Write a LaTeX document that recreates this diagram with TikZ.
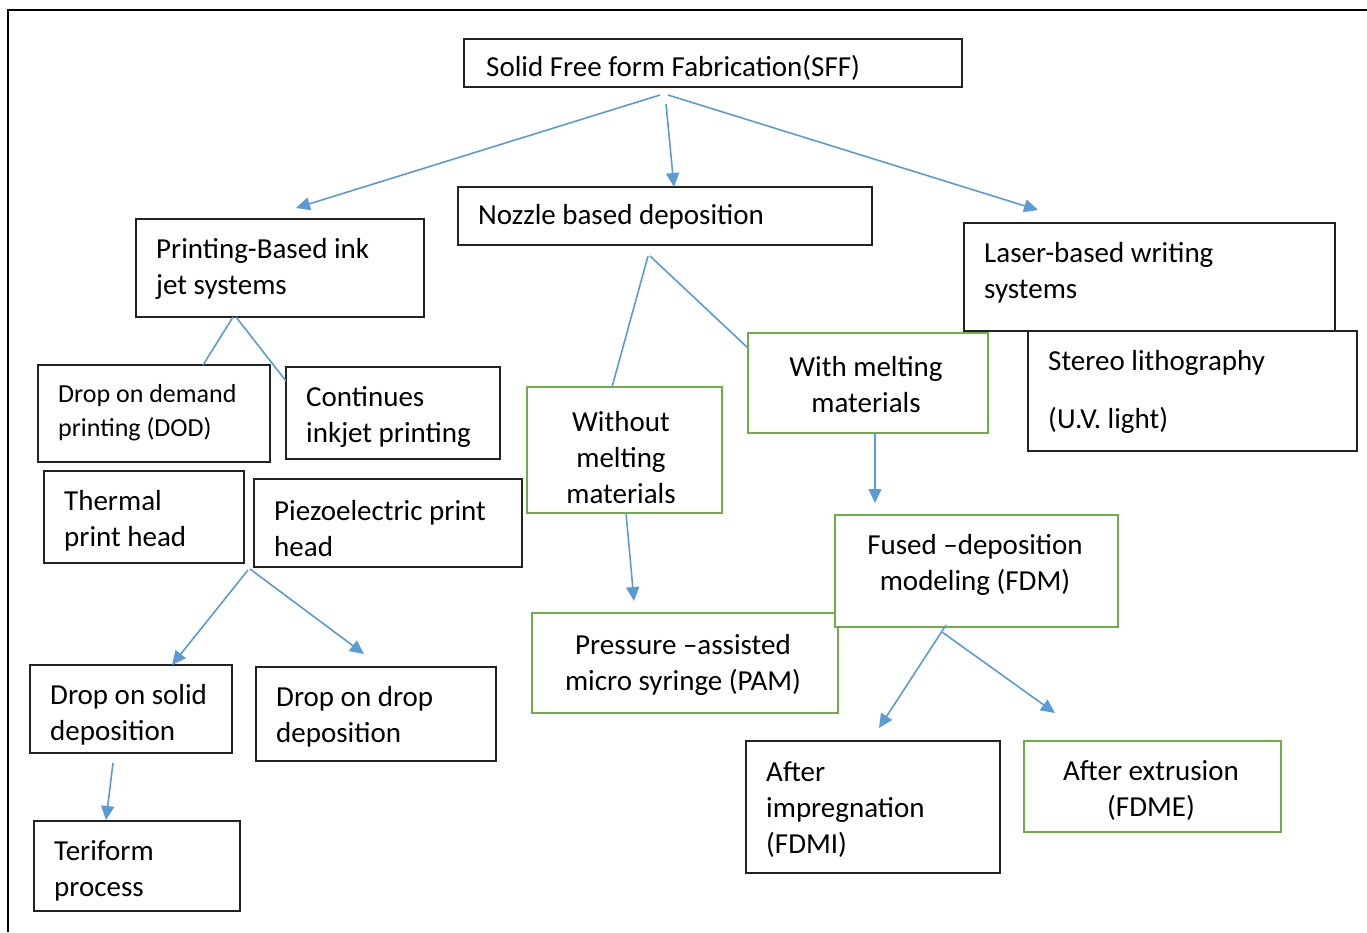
\documentclass[tikz,border=0pt]{standalone}
\usepackage{fontspec}
\setmainfont{Carlito}
\usetikzlibrary{arrows.meta}
\definecolor{arrblue}{HTML}{5B9BD5}
\definecolor{boxgreen}{HTML}{70AD47}
\definecolor{boxblack}{HTML}{222222}
\begin{document}
\begin{tikzpicture}[x=1pt,y=-1pt,
  bbox/.style={draw=boxblack,line width=1.6pt,fill=white,inner sep=0pt},
  gbox/.style={draw=boxgreen,line width=1.6pt,fill=white,inner sep=0pt},
  ltxt/.style={anchor=west,align=left,inner sep=0pt,font=\fontsize{29}{36}\selectfont},
  ctxt/.style={anchor=center,align=center,inner sep=0pt,font=\fontsize{29}{36}\selectfont},
  arr/.style={draw=arrblue,line width=1.6pt,-{Triangle[length=14pt,width=13pt]}},
  lnk/.style={draw=arrblue,line width=1.6pt}]
\useasboundingbox (0,0) rectangle (1367,932);
% frame
\draw[line width=2.5pt] (8,932) -- (8,10) -- (1367,10);
% boxes
\node[bbox,minimum width=498,minimum height=48] (sff) at (713,63) {};
\node[bbox,minimum width=288,minimum height=98] (print) at (280,268) {};
\node[bbox,minimum width=414,minimum height=58] (nozzle) at (665,216) {};
\node[bbox,minimum width=371,minimum height=108] (laser) at (1149.5,277) {};
\node[bbox,minimum width=329,minimum height=120] (stereo) at (1192.5,391) {};
\node[gbox,minimum width=240,minimum height=100] (with) at (868,383) {};
\node[gbox,minimum width=195,minimum height=126] (without) at (624.5,450) {};
\node[bbox,minimum width=232,minimum height=97] (dod) at (154,413.5) {};
\node[bbox,minimum width=214,minimum height=92] (cont) at (393,413) {};
\node[bbox,minimum width=200,minimum height=92] (therm) at (144,517) {};
\node[bbox,minimum width=268,minimum height=88] (piezo) at (388,523) {};
\node[bbox,minimum width=202,minimum height=88] (dsolid) at (131,709) {};
\node[bbox,minimum width=240,minimum height=94] (ddrop) at (376,714) {};
\node[bbox,minimum width=206,minimum height=90] (teri) at (137,866) {};
\node[gbox,minimum width=306,minimum height=100] (press) at (685,663) {};
\node[gbox,minimum width=283,minimum height=112] (fused) at (976.5,571) {};
\node[bbox,minimum width=254,minimum height=132] (aimp) at (873,807) {};
\node[gbox,minimum width=257,minimum height=91] (aext) at (1152.5,786.5) {};
% texts
\begin{scope}[yshift=-2pt]
\node[ltxt] (sff-t) at (486,66) {Solid Free form Fabrication(SFF)};
\node[ltxt] (print-t) at (156,267) {Printing-Based ink\\jet systems};
\node[ltxt] (nozzle-t) at (478,215) {Nozzle based deposition};
\node[ltxt] (laser-t) at (984,271) {Laser-based writing\\systems};
\node[ltxt] (stereo-t) at (1048,390) {Stereo lithography\\[22pt](U.V. light)};
\node[ctxt] (with-t) at (866,383) {With melting\\materials};
\node[ctxt] (without-t) at (621,456) {Without\\melting\\materials};
\node[ltxt,font=\fontsize{26}{34}\selectfont] (dod-t) at (58,411) {Drop on demand\\printing (DOD)};
\node[ltxt] (cont-t) at (306,415) {Continues\\inkjet printing};
\node[ltxt] (therm-t) at (64,519) {Thermal\\print head};
\node[ltxt] (piezo-t) at (274,527) {Piezoelectric print\\head};
\node[ltxt] (dsolid-t) at (50,713) {Drop on solid\\deposition};
\node[ltxt] (ddrop-t) at (276,715) {Drop on drop\\deposition};
\node[ltxt] (teri-t) at (54,869) {Teriform\\process};
\node[ctxt] (press-t) at (683,663) {Pressure \textendash assisted\\micro syringe (PAM)};
\node[ctxt] (fused-t) at (975,563) {Fused \textendash deposition\\modeling (FDM)};
\node[ltxt] (aimp-t) at (766,808) {After\\impregnation\\(FDMI)};
\node[ctxt] (aext-t) at (1151,789) {After extrusion\\(FDME)};
\end{scope}
% connector coordinates
\coordinate (c1s) at (660,95);  \coordinate (c1e) at (296,208);
\coordinate (c2s) at (666,104); \coordinate (c2e) at (674,187);
\coordinate (c3s) at (668,95);  \coordinate (c3e) at (1038,210);
\coordinate (p1s) at (233,317); \coordinate (p1e) at (203,365);
\coordinate (p2s) at (236,317); \coordinate (p2e) at (286,381);
\coordinate (n1s) at (648,256); \coordinate (n1e) at (612,387);
\coordinate (n2s) at (650,256); \coordinate (n2e) at (748,348);
\coordinate (w1s) at (875,433); \coordinate (w1e) at (875,503);
\coordinate (o1s) at (626,513); \coordinate (o1e) at (634,601);
\coordinate (t1s) at (248,570); \coordinate (t1e) at (172,665);
\coordinate (t2s) at (250,569); \coordinate (t2e) at (364,654);
\coordinate (d1s) at (113,763); \coordinate (d1e) at (106,820);
\coordinate (f1s) at (946,625); \coordinate (f1e) at (879,728);
\coordinate (f2s) at (942,632); \coordinate (f2e) at (1055,713);
% connectors
\draw[arr] (c1s) -- (c1e);
\draw[arr] (c2s) -- (c2e);
\draw[arr] (c3s) -- (c3e);
\draw[lnk] (p1s) -- (p1e);
\draw[lnk] (p2s) -- (p2e);
\draw[lnk] (n1s) -- (n1e);
\draw[lnk] (n2s) -- (n2e);
\draw[arr] (w1s) -- (w1e);
\draw[arr] (o1s) -- (o1e);
\draw[arr] (t1s) -- (t1e);
\draw[arr] (t2s) -- (t2e);
\draw[arr] (d1s) -- (d1e);
\draw[arr] (f1s) -- (f1e);
\draw[arr] (f2s) -- (f2e);
\end{tikzpicture}
\end{document}
